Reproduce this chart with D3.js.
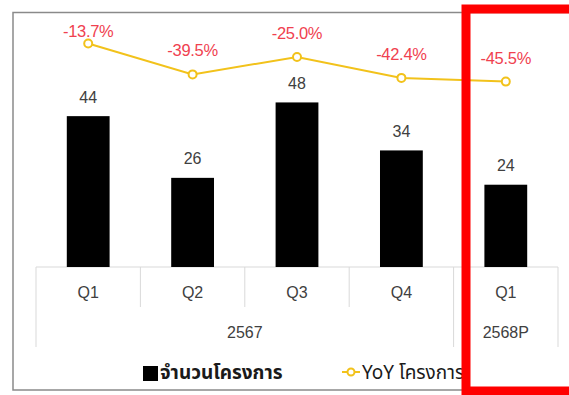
<!DOCTYPE html>
<html>
<head>
<meta charset="utf-8">
<script src="https://cdn.jsdelivr.net/npm/d3@7/dist/d3.min.js"></script>
<style>
  html, body { margin: 0; padding: 0; background: #fff; }
  svg { display: block; }
  text { font-family: "Liberation Sans", Arial, sans-serif; }
  .thai { font-family: Tahoma, "Noto Sans Thai", "Leelawadee UI", "Noto Sans", sans-serif; }
</style>
</head>
<body>
<svg id="chart" width="569" height="395"></svg>
<script>
// Quarterly project counts and year-over-year change
const quarters = ["Q1", "Q2", "Q3", "Q4", "Q1"];
const keys = ["2567-Q1", "2567-Q2", "2567-Q3", "2567-Q4", "2568P-Q1"];
const projects = [44, 26, 48, 34, 24];
const yoy = [-13.7, -39.5, -25.0, -42.4, -45.5];
const years = ["2567", "2568P"];
const yearSpans = [4, 1];
const legendLabels = ["จำนวนโครงการ", "YoY โครงการ"];

const svg = d3.select("#chart");

const x = d3.scaleBand().domain(keys).range([36, 558]).padding(0);
const yBar = d3.scaleLinear().domain([0, 70]).range([267, 27]);
const yPct = d3.scaleLinear().domain([-200, 0]).range([267, 27]);

const gridColor = "#d9d9d9";
const textColor = "#404040";
const lineColor = "#f2c21b";
const pctColor = "#f0414f";

// Outer chart frame
svg.append("rect")
  .attr("x", 13).attr("y", 12.5).attr("width", 560).attr("height", 377.5)
  .attr("fill", "none").attr("stroke", "#8a8a8a").attr("stroke-width", 1.5);

// Multi-level category axis
const axis = svg.append("g");
axis.append("line")
  .attr("x1", x.range()[0]).attr("x2", x.range()[1])
  .attr("y1", yBar(0)).attr("y2", yBar(0))
  .attr("stroke", gridColor).attr("stroke-width", 1);

// dividers between quarters and between years
let cum = 0;
const yearBounds = [0];
yearSpans.forEach(s => { cum += s; yearBounds.push(cum); });
keys.concat([null]).forEach((k, i) => {
  const xp = i < keys.length ? x(keys[i]) : x.range()[1];
  const long = yearBounds.includes(i);
  axis.append("line")
    .attr("x1", xp).attr("x2", xp)
    .attr("y1", yBar(0)).attr("y2", long ? 347 : 307)
    .attr("stroke", gridColor).attr("stroke-width", 1);
});

axis.selectAll("text.q")
  .data(quarters)
  .join("text")
  .attr("class", "q")
  .attr("x", (d, i) => x(keys[i]) + x.bandwidth() / 2)
  .attr("y", 292)
  .attr("text-anchor", "middle").attr("dominant-baseline", "central")
  .attr("font-size", 16).attr("fill", textColor)
  .text(d => d);

axis.selectAll("text.yr")
  .data(years)
  .join("text")
  .attr("class", "yr")
  .attr("x", (d, i) => {
    const a = x(keys[yearBounds[i]]);
    const b = yearBounds[i + 1] < keys.length ? x(keys[yearBounds[i + 1]]) : x.range()[1];
    return (a + b) / 2;
  })
  .attr("y", 332)
  .attr("text-anchor", "middle").attr("dominant-baseline", "central")
  .attr("font-size", 16).attr("fill", textColor)
  .text(d => d);

// Bars
const barW = x.bandwidth() * 0.41;
svg.append("g").selectAll("rect")
  .data(projects)
  .join("rect")
  .attr("x", (d, i) => x(keys[i]) + (x.bandwidth() - barW) / 2)
  .attr("y", d => yBar(d))
  .attr("width", barW)
  .attr("height", d => yBar(0) - yBar(d))
  .attr("fill", "#000");

svg.append("g").selectAll("text")
  .data(projects)
  .join("text")
  .attr("x", (d, i) => x(keys[i]) + x.bandwidth() / 2)
  .attr("y", d => yBar(d) - 19)
  .attr("text-anchor", "middle").attr("dominant-baseline", "central")
  .attr("font-size", 16).attr("fill", textColor)
  .text(d => d);

// YoY line
const cx = (d, i) => x(keys[i]) + x.bandwidth() / 2;
const line = d3.line().x(cx).y(d => yPct(d));
svg.append("path")
  .datum(yoy)
  .attr("d", line)
  .attr("fill", "none").attr("stroke", lineColor).attr("stroke-width", 2);

svg.append("g").selectAll("circle")
  .data(yoy)
  .join("circle")
  .attr("cx", cx).attr("cy", d => yPct(d)).attr("r", 4)
  .attr("fill", "#fff").attr("stroke", lineColor).attr("stroke-width", 2);

svg.append("g").selectAll("text")
  .data(yoy)
  .join("text")
  .attr("x", cx)
  .attr("y", d => Math.max(31, yPct(d) - 24))
  .attr("text-anchor", "middle").attr("dominant-baseline", "central")
  .attr("font-size", 16.5).attr("fill", pctColor)
  .attr("letter-spacing", -0.3)
  .text(d => d.toFixed(1) + "%");

// Legend
const lg = svg.append("g");
lg.append("rect").attr("x", 143).attr("y", 366).attr("width", 15).attr("height", 15).attr("fill", "#000");
lg.append("text").attr("class", "thai")
  .attr("x", 160).attr("y", 373).attr("dominant-baseline", "central")
  .attr("font-size", 19).attr("font-weight", "bold").attr("fill", "#1a1a1a")
  .text(legendLabels[0]);
lg.append("line").attr("x1", 342).attr("x2", 360).attr("y1", 372).attr("y2", 372)
  .attr("stroke", lineColor).attr("stroke-width", 2);
lg.append("circle").attr("cx", 351).attr("cy", 372).attr("r", 3.5)
  .attr("fill", "#fff").attr("stroke", lineColor).attr("stroke-width", 2);
lg.append("text").attr("class", "thai")
  .attr("x", 362).attr("y", 373).attr("dominant-baseline", "central")
  .attr("font-size", 19).attr("fill", "#1a1a1a")
  .text(legendLabels[1]);

// Highlight frame around the latest quarter
svg.append("rect")
  .attr("x", 466).attr("y", 9).attr("width", 140).attr("height", 382)
  .attr("fill", "none").attr("stroke", "#ff0000").attr("stroke-width", 9);
</script>
</body>
</html>
